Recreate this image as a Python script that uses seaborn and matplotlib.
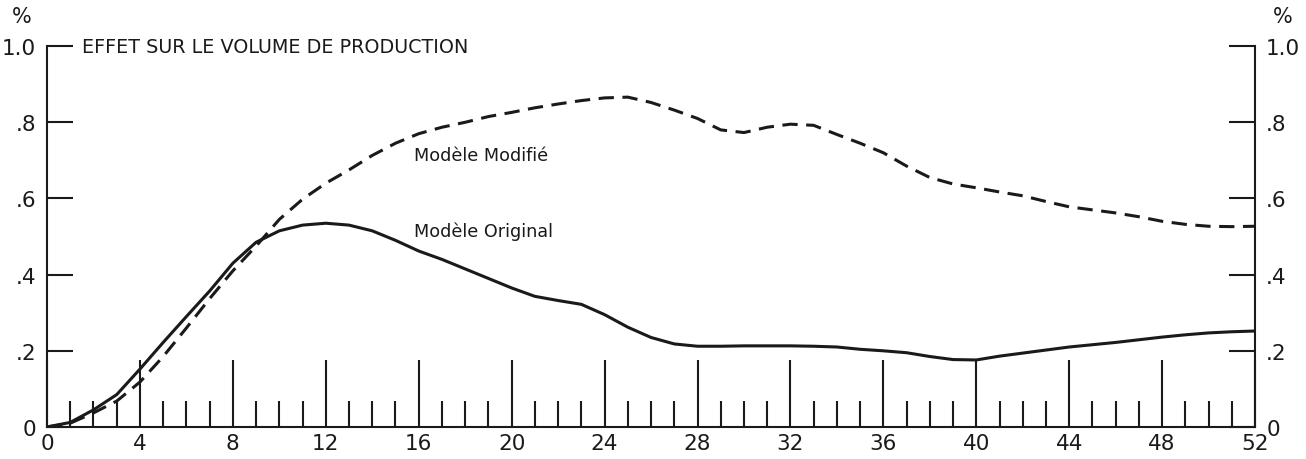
import pandas as pd
import matplotlib.pyplot as plt
import seaborn as sns
from matplotlib.ticker import MultipleLocator, FixedLocator

# weeks after the shock
weeks = list(range(0, 53))

# Modèle Original (solid line)
original = [0.0, 0.012, 0.045, 0.085, 0.152, 0.222, 0.29, 0.357, 0.43, 0.485,
            0.515, 0.53, 0.535, 0.53, 0.515, 0.49, 0.462, 0.44, 0.415, 0.39,
            0.365, 0.343, 0.332, 0.322, 0.295, 0.262, 0.235, 0.218, 0.212, 0.212,
            0.213, 0.213, 0.213, 0.212, 0.21, 0.204, 0.2, 0.195, 0.185, 0.177,
            0.176, 0.186, 0.194, 0.202, 0.21, 0.216, 0.222, 0.229, 0.236, 0.242,
            0.247, 0.25, 0.252]

# Modèle Modifié (dashed line)
modifie = [0.0, 0.01, 0.037, 0.068, 0.118, 0.185, 0.26, 0.337, 0.41, 0.475,
           0.545, 0.598, 0.64, 0.675, 0.713, 0.745, 0.77, 0.787, 0.80, 0.815,
           0.826, 0.838, 0.848, 0.857, 0.864, 0.866, 0.852, 0.832, 0.81, 0.78,
           0.773, 0.787, 0.795, 0.792, 0.768, 0.745, 0.72, 0.685, 0.655, 0.638,
           0.628, 0.617, 0.607, 0.592, 0.578, 0.57, 0.562, 0.552, 0.54, 0.532,
           0.527, 0.526, 0.527]

y_ticks = [0, 0.2, 0.4, 0.6, 0.8, 1.0]
y_labels = ['0', '.2', '.4', '.6', '.8', '1.0']
x_major = list(range(0, 53, 4))

df = pd.DataFrame({'semaine': weeks, 'original': original, 'modifie': modifie})

sns.set_style('ticks')
plt.rcParams['font.family'] = ['DejaVu Sans']
ink = '#1a1a1a'

fig = plt.figure(figsize=(13.06, 4.60), dpi=100)
ax = fig.add_axes([0.036, 0.0696, 0.925, 0.828])

sns.lineplot(x='semaine', y='original', data=df, ax=ax, color=ink, lw=2.2)
sns.lineplot(x='semaine', y='modifie', data=df, ax=ax, color=ink, lw=2.2,
             linestyle=(0, (5, 2.8)))

ax.set_xlim(0, 52)
ax.set_ylim(0, 1.0)
ax.set_xlabel('')
ax.set_ylabel('')

for side in ['left', 'right', 'bottom']:
    ax.spines[side].set_visible(True)
    ax.spines[side].set_linewidth(1.5)
    ax.spines[side].set_color(ink)
ax.spines['top'].set_visible(False)

ax.yaxis.set_major_locator(FixedLocator(y_ticks))
ax.set_yticklabels(y_labels)
ax.tick_params(axis='y', direction='in', length=19, width=1.5, color=ink,
               left=True, right=True, labelleft=True, labelright=True,
               pad=8, labelsize=15.5, labelcolor=ink)

ax.xaxis.set_major_locator(FixedLocator(x_major))
ax.xaxis.set_minor_locator(MultipleLocator(1))
ax.tick_params(axis='x', which='major', direction='in', length=48, width=1.5,
               color=ink, pad=4, labelsize=15.5, labelcolor=ink)
ax.tick_params(axis='x', which='minor', direction='in', length=19, width=1.5,
               color=ink)

# titles and curve labels
ax.text(1.5, 1.0, 'EFFET SUR LE VOLUME DE PRODUCTION', fontsize=13.8,
        color=ink, va='center', ha='left')
ax.text(15.8, 0.715, 'Modèle Modifié', fontsize=12.7, color=ink, va='center')
ax.text(15.8, 0.514, 'Modèle Original', fontsize=12.7, color=ink, va='center')

fig.text(22 / 1306, 1 - 17 / 460, '%', fontsize=15, color=ink, ha='center', va='center')
fig.text(1283 / 1306, 1 - 17 / 460, '%', fontsize=15, color=ink, ha='center', va='center')

plt.savefig('out.png', dpi=100, facecolor='white')
